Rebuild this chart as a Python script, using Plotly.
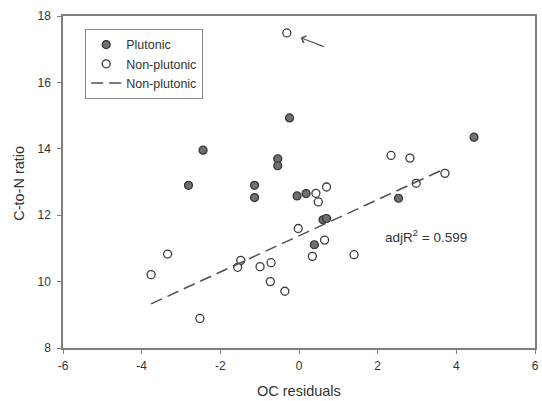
import plotly.graph_objects as go

# ---- data ----
plutonic_x = [-2.81, -2.44, -1.13, -1.13, -0.54, -0.54, -0.05, 0.18, -0.24, 4.45, 2.53, 0.61, 0.70, 0.39]
plutonic_y = [12.90, 13.96, 12.90, 12.53, 13.70, 13.49, 12.58, 12.65, 14.93, 14.35, 12.51, 11.86, 11.90, 11.11]

nonplut_x = [-0.31, 2.34, 2.82, 3.71, 2.98, 0.43, 0.70, 0.49, -0.02, 0.65, 0.34, 1.40,
             -0.99, -0.71, -0.73, -0.36, -1.48, -1.56, -3.34, -3.76, -2.52]
nonplut_y = [17.49, 13.80, 13.72, 13.26, 12.96, 12.66, 12.85, 12.40, 11.60, 11.25, 10.76, 10.81,
             10.45, 10.57, 10.00, 9.71, 10.64, 10.43, 10.83, 10.21, 8.89]

fit_x = [-3.76, 3.69]
fit_y = [9.33, 13.39]

arrow_head = (-0.08, 17.40)
arrow_tail = (0.67, 17.06)

x_ticks = [-6, -4, -2, 0, 2, 4, 6]
y_ticks = [8, 10, 12, 14, 16, 18]

FONT = "Arial, 'Liberation Sans', sans-serif"
AXIS = "#808080"
TXT = "#333333"

fig = go.Figure()
fig.add_trace(go.Scatter(
    x=plutonic_x, y=plutonic_y, mode="markers", name="Plutonic",
    marker=dict(size=8, color="#6f6f6f", line=dict(color="#333333", width=1.2)),
))
fig.add_trace(go.Scatter(
    x=nonplut_x, y=nonplut_y, mode="markers", name="Non-plutonic",
    marker=dict(size=8, color="white", line=dict(color="#3a3a3a", width=1.3)),
))
fig.add_trace(go.Scatter(
    x=fit_x, y=fit_y, mode="lines", name="Non-plutonic",
    line=dict(color="#505050", width=1.5, dash="12px,6px"),
))

fig.add_annotation(
    x=arrow_head[0], y=arrow_head[1], ax=arrow_tail[0], ay=arrow_tail[1],
    xref="x", yref="y", axref="x", ayref="y", text="", showarrow=True,
    arrowhead=4, arrowsize=1.3, arrowwidth=1.1, arrowcolor="#555555", standoff=5,
)
fig.add_annotation(
    x=2.13, y=11.38, xref="x", yref="y", xanchor="left", yanchor="middle",
    text="adjR<sup>2</sup> = 0.599", showarrow=False,
    font=dict(family=FONT, size=13.5, color=TXT),
)
fig.add_annotation(
    x=0.5, y=-0.1306, xref="paper", yref="paper", xanchor="center", yanchor="middle",
    text="OC residuals", showarrow=False, font=dict(family=FONT, size=14.5, color=TXT),
)
fig.add_annotation(
    x=-0.0936, y=0.497, xref="paper", yref="paper", xanchor="center", yanchor="middle",
    text="C-to-N ratio", textangle=-90, showarrow=False,
    font=dict(family=FONT, size=14.5, color=TXT),
)

axis_common = dict(
    showgrid=False, zeroline=False, showline=True, mirror=True,
    linecolor=AXIS, linewidth=1.5, ticks="outside", ticklen=4,
    tickcolor=AXIS, tickwidth=1.2,
    tickfont=dict(family=FONT, size=12, color=TXT),
)
fig.update_xaxes(range=[-6, 6], tickvals=x_ticks, ticktext=[str(v) for v in x_ticks],
                 ticklabelstandoff=2, **axis_common)
fig.update_yaxes(range=[8, 18], tickvals=y_ticks, ticktext=[str(v) for v in y_ticks],
                 ticklabelstandoff=4, **axis_common)

fig.update_layout(
    width=542, height=401,
    margin=dict(l=63, r=3.5, t=16, b=52.7),
    plot_bgcolor="white", paper_bgcolor="white",
    font=dict(family=FONT, color=TXT),
    legend=dict(
        x=0.047, y=0.961, xanchor="left", yanchor="top",
        bordercolor="#888888", borderwidth=1, bgcolor="white",
        font=dict(family=FONT, size=12.5, color=TXT),
        tracegroupgap=0, itemwidth=30,
    ),
)

fig.write_html("out.html")
